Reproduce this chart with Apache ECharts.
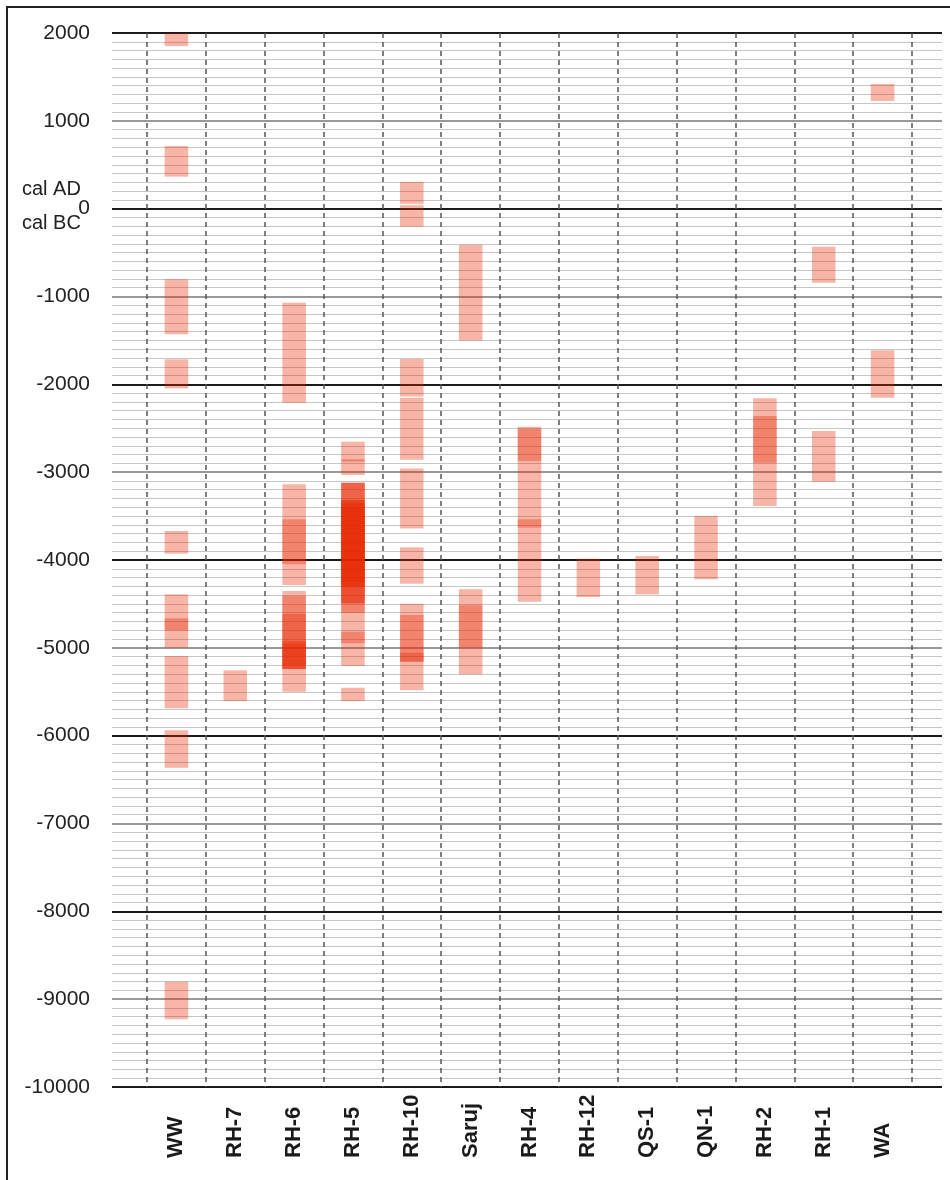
<!DOCTYPE html>
<html lang="en">
  <head>
    <meta charset="UTF-8" />
    <title>Radiocarbon ranges</title>
    <script src="https://cdn.jsdelivr.net/npm/echarts@6/dist/echarts.min.js"></script>
    <style>
      html, body { margin: 0; padding: 0; background: #fff; }
    </style>
  </head>
  <body>
    <div id="chart" style="width: 950px; height: 1180px"></div>
  </body>
  <script>
    // sites along the bottom
    let sites = ["WW", "RH-7", "RH-6", "RH-5", "RH-10", "Saruj", "RH-4", "RH-12", "QS-1", "QN-1", "RH-2", "RH-1", "WA"];

    // date ranges per site, [older, younger] (negative = cal BC)
    let rangesWW = [[1850, 1995], [364, 713], [-1430, -804], [-2046, -1715], [-3928, -3670], [-4801, -4391], [-4999, -4664], [-5689, -5093], [-6364, -5939], [-9229, -8801]];
    let rangesRH7 = [[-5606, -5256]];
    let rangesRH6 = [[-2209, -1070], [-4285, -3138], [-4049, -3536], [-5500, -4353], [-5241, -4410], [-5241, -4615], [-5241, -4922], [-5200, -4950]];
    let rangesRH5 = [[-3032, -2853], [-2880, -2653], [-5206, -3120], [-4603, -3120], [-4493, -3120], [-4493, -3317], [-4304, -3317], [-4304, -3350], [-4250, -3400], [-4948, -4816], [-5606, -5454]];
    let rangesRH10 = [[55, 305], [-205, 40], [-2138, -1712], [-2858, -2152], [-3640, -2958], [-4270, -3856], [-5484, -4497], [-5158, -4626], [-5158, -5056]];
    let rangesSaruj = [[-1500, -410], [-5302, -4334], [-4997, -4516]];
    let rangesRH4 = [[-4475, -2482], [-2873, -2505], [-3632, -3536]];
    let rangesRH12 = [[-4421, -3985]];
    let rangesQS1 = [[-4391, -3955]];
    let rangesQN1 = [[-4219, -3499]];
    let rangesRH2 = [[-3385, -2159], [-2892, -2361]];
    let rangesRH1 = [[-843, -433], [-3108, -2531]];
    let rangesWA = [[1226, 1419], [-2152, -1613]];

    let siteRanges = [rangesWW, rangesRH7, rangesRH6, rangesRH5, rangesRH10, rangesSaruj, rangesRH4, rangesRH12, rangesQS1, rangesQN1, rangesRH2, rangesRH1, rangesWA];

    let yMin = -10000;
    let yMax = 2000;

    let rectData = [];
    siteRanges.forEach((list, i) => {
      list.forEach((r) => rectData.push([i, r[0], r[1]]));
    });

    let chart = echarts.init(document.getElementById("chart"));
    let font = "Liberation Sans, Arial, sans-serif";

    let option = {
      backgroundColor: "#fff",
      animation: false,
      grid: [
        // wide grid: horizontal lines + y labels
        { left: 112, right: 8, top: 33, bottom: 93, outerBoundsMode: "none" },
        // narrow grid: site columns
        { left: 147, right: 38, top: 33, bottom: 93, outerBoundsMode: "none" },
      ],
      xAxis: [
        { gridIndex: 0, type: "value", min: 0, max: 1, show: false },
        {
          gridIndex: 1,
          type: "category",
          data: sites,
          boundaryGap: true,
          axisLine: { show: false },
          axisTick: { show: false },
          axisLabel: {
            interval: 0,
            rotate: 90,
            align: "left",
            verticalAlign: "middle",
            margin: 71,
            fontSize: 22,
            fontWeight: "bold",
            fontFamily: font,
            color: "#1a1a1a",
          },
          splitLine: {
            show: true,
            interval: 0,
            lineStyle: { color: "#555", width: 1.5, type: [5, 4] },
          },
        },
      ],
      yAxis: [
        {
          gridIndex: 0,
          type: "value",
          min: yMin,
          max: yMax,
          interval: 1000,
          axisLine: { show: false },
          axisTick: { show: false },
          axisLabel: {
            margin: 22,
            fontSize: 21,
            fontFamily: font,
            color: "#222",
            formatter: (v) => String(v),
          },
          splitLine: { lineStyle: { color: "#777", width: 1.5 } },
          minorTick: { show: false, splitNumber: 10 },
          minorSplitLine: { show: true, lineStyle: { color: "#c6c6c6", width: 1.2 } },
        },
        {
          gridIndex: 0,
          type: "value",
          position: "left",
          min: yMin,
          max: yMax,
          interval: 2000,
          axisLine: { show: false },
          axisTick: { show: false },
          axisLabel: { show: false },
          splitLine: { lineStyle: { color: "#1a1a1a", width: 2 } },
        },
        { gridIndex: 1, type: "value", min: yMin, max: yMax, show: false },
      ],
      series: [
        {
          type: "custom",
          xAxisIndex: 1,
          yAxisIndex: 2,
          data: rectData,
          encode: { x: 0, y: [1, 2] },
          renderItem: function (params, api) {
            let lo = api.coord([api.value(0), api.value(1)]);
            let hi = api.coord([api.value(0), api.value(2)]);
            let w = api.size([1, 0])[0] * 0.4;
            return {
              type: "rect",
              shape: { x: lo[0] - w / 2, y: hi[1], width: w, height: lo[1] - hi[1] },
              style: { fill: "rgba(232,38,0,0.34)" },
            };
          },
        },
      ],
      graphic: [
        {
          type: "rect",
          shape: { x: 7, y: 7, width: 1000, height: 1200 },
          style: { fill: "none", stroke: "#222", lineWidth: 2 },
          silent: true,
        },
        {
          type: "text",
          left: 22,
          top: 179,
          style: { text: "cal AD", fontSize: 20, fontFamily: font, fill: "#222" },
        },
        {
          type: "text",
          left: 22,
          top: 213,
          style: { text: "cal BC", fontSize: 20, fontFamily: font, fill: "#222" },
        },
      ],
    };
    chart.setOption(option);
  </script>
</html>
